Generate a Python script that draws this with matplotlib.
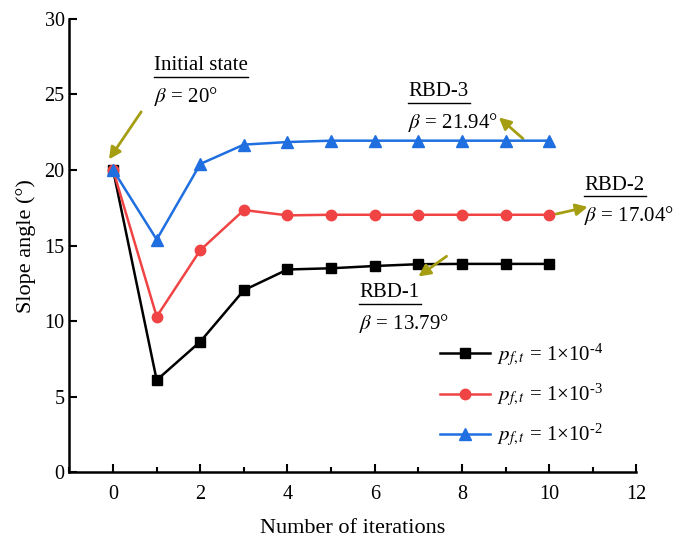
import matplotlib
matplotlib.use("Agg")
import matplotlib.pyplot as plt
from matplotlib.ticker import MultipleLocator

plt.rcParams["font.family"] = ["Liberation Serif", "DejaVu Serif"]
plt.rcParams["mathtext.fontset"] = "stix"

iterations = [0, 1, 2, 3, 4, 5, 6, 7, 8, 9, 10]
angle_pf_1e4 = [20.0, 6.1, 8.65, 12.05, 13.42, 13.5, 13.65, 13.77, 13.79, 13.79, 13.79]
angle_pf_1e3 = [20.0, 10.3, 14.7, 17.35, 17.0, 17.04, 17.04, 17.04, 17.04, 17.04, 17.04]
angle_pf_1e2 = [20.0, 15.4, 20.4, 21.68, 21.85, 21.94, 21.94, 21.94, 21.94, 21.94, 21.94]
series_labels = [r"$p_{f,t}$ = 1×10$^{\mathregular{‐4}}$",
                 r"$p_{f,t}$ = 1×10$^{\mathregular{‐3}}$",
                 r"$p_{f,t}$ = 1×10$^{\mathregular{‐2}}$"]
x_ticks = [0, 2, 4, 6, 8, 10, 12]
y_ticks = [0, 5, 10, 15, 20, 25, 30]

fig = plt.figure(figsize=(6.78, 5.38), dpi=100)
ax = fig.add_axes([0.1025, 0.122, 0.836, 0.843])

ax.plot(iterations, angle_pf_1e4, color="black", marker="s", ms=6.5, lw=1.8,
        label=series_labels[0], zorder=3)
ax.plot(iterations, angle_pf_1e3, color="#F04444", marker="o", ms=7.5, lw=1.8,
        label=series_labels[1], zorder=4)
ax.plot(iterations, angle_pf_1e2, color="#1F6FE0", marker="^", ms=8, lw=1.8,
        label=series_labels[2], zorder=5)

ax.set_xlim(-1, 12)
ax.set_ylim(0, 30)
ax.set_xticks(x_ticks)
ax.set_yticks(y_ticks)
ax.xaxis.set_minor_locator(MultipleLocator(1))
ax.tick_params(axis="both", which="major", direction="in", length=6, width=1.5,
               labelsize=14.5)
ax.tick_params(axis="x", which="minor", direction="in", length=3.5, width=1.5)
ax.tick_params(axis="x", which="major", pad=9)
for side in ("top", "right"):
    ax.spines[side].set_visible(False)
for side in ("left", "bottom"):
    ax.spines[side].set_linewidth(1.8)

ax.set_xlabel("Number of iterations", fontsize=16, labelpad=11)
ax.set_ylabel("Slope angle (°)", fontsize=16, labelpad=6)

arrow_col = "#A59D12"
arrow_kw = dict(arrowstyle="-|>,head_length=0.7,head_width=0.35", color=arrow_col, lw=2)


def note(x, y, title, beta):
    ax.text(x, y, title, fontsize=15, ha="left", va="baseline")
    ax.text(x, y - 2.1, r"$\beta$ = " + beta, fontsize=15, ha="left", va="baseline")


def underline(x0, x1, y):
    ax.plot([x0, x1], [y, y], color="black", lw=1.0, clip_on=False)


# Initial state
note(0.93, 26.6, "Initial state", "20°")
underline(0.93, 3.1, 26.15)
ax.annotate("", xy=(-0.13, 20.55), xytext=(0.68, 24.0), arrowprops=arrow_kw)

# RBD-3
note(6.77, 24.9, "RBD-3", "21.94°")
underline(6.77, 8.18, 24.45)
ax.annotate("", xy=(8.8, 23.6), xytext=(9.45, 21.95), arrowprops=arrow_kw)

# RBD-2
note(10.8, 18.7, "RBD-2", "17.04°")
underline(10.8, 12.22, 18.25)
ax.annotate("", xy=(10.95, 17.6), xytext=(10.1, 17.05), arrowprops=arrow_kw)

# RBD-1
note(5.65, 11.6, "RBD-1", "13.79°")
underline(5.65, 7.07, 11.15)
ax.annotate("", xy=(6.95, 12.85), xytext=(7.7, 14.4), arrowprops=arrow_kw)

leg = ax.legend(loc="lower right", bbox_to_anchor=(0.975, 0.01), frameon=False,
                fontsize=15, handlelength=2.4, handletextpad=0.35, labelspacing=0.62)

fig.savefig("out.png", dpi=100)
